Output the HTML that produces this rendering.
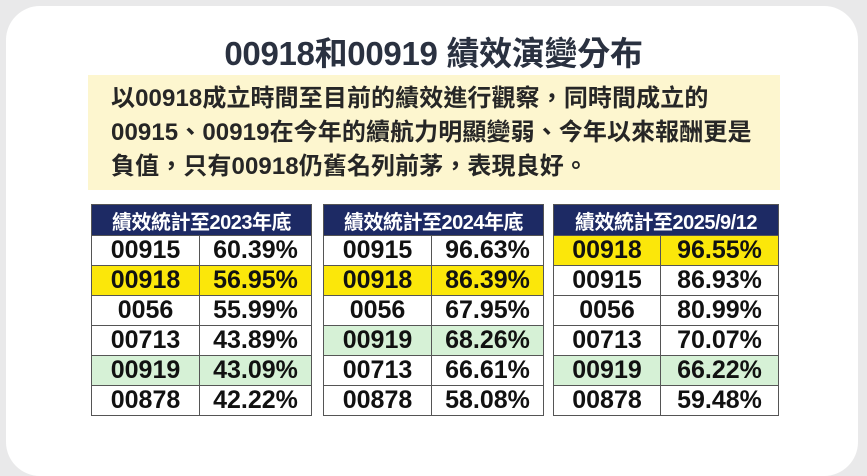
<!DOCTYPE html>
<html><head><meta charset="utf-8"><style>
body{margin:0;width:867px;height:450px;background:#e9e9ea;overflow:hidden;font-family:"Liberation Sans","Noto Sans CJK TC",sans-serif;}
.card{position:absolute;left:6px;top:6px;width:852px;height:470px;background:#fff;border-radius:34px;}
.title{position:absolute;left:0;width:867px;top:27px;text-align:center;font-size:33px;font-weight:bold;color:#2a3140;letter-spacing:-0.3px;}
.box{position:absolute;left:88px;top:75px;width:692px;height:115px;background:#fdf6cf;}
.txt{position:absolute;left:111px;top:82px;font-size:24px;font-weight:bold;color:#262626;line-height:34px;white-space:nowrap;letter-spacing:0.1px;}
table{position:absolute;border-collapse:collapse;top:204px;font-weight:bold;}
td{border:1.5px solid #555;height:29px;text-align:center;font-size:25px;color:#111;padding:0;}
th{background:#1d2a64;color:#fff;height:30px;font-size:20px;border:1.5px solid #555;padding:0;letter-spacing:-0.5px;}
.y td{background:#fbe70a;}
.g td{background:#d6f1d6;}
</style></head><body>
<div class="card"></div>
<div class="title">00918和00919 績效演變分布</div>
<div class="box"></div>
<div class="txt">以00918成立時間至目前的績效進行觀察，同時間成立的<br>00915、00919在今年的續航力明顯變弱、今年以來報酬更是<br>負值，只有00918仍舊名列前茅，表現良好。</div>
<table style="left:91px;width:221px"><tr><th colspan="2">績效統計至2023年底</th></tr>
<tr><td style="width:107px">00915</td><td>60.39%</td></tr>
<tr class="y"><td>00918</td><td>56.95%</td></tr>
<tr><td>0056</td><td>55.99%</td></tr>
<tr><td>00713</td><td>43.89%</td></tr>
<tr class="g"><td>00919</td><td>43.09%</td></tr>
<tr><td>00878</td><td>42.22%</td></tr></table>
<table style="left:323px;width:221px"><tr><th colspan="2">績效統計至2024年底</th></tr>
<tr><td style="width:107px">00915</td><td>96.63%</td></tr>
<tr class="y"><td>00918</td><td>86.39%</td></tr>
<tr><td>0056</td><td>67.95%</td></tr>
<tr class="g"><td>00919</td><td>68.26%</td></tr>
<tr><td>00713</td><td>66.61%</td></tr>
<tr><td>00878</td><td>58.08%</td></tr></table>
<table style="left:553px;width:226px"><tr><th colspan="2">績效統計至2025/9/12</th></tr>
<tr class="y"><td style="width:106px">00918</td><td>96.55%</td></tr>
<tr><td>00915</td><td>86.93%</td></tr>
<tr><td>0056</td><td>80.99%</td></tr>
<tr><td>00713</td><td>70.07%</td></tr>
<tr class="g"><td>00919</td><td>66.22%</td></tr>
<tr><td>00878</td><td>59.48%</td></tr></table>
</body></html>
